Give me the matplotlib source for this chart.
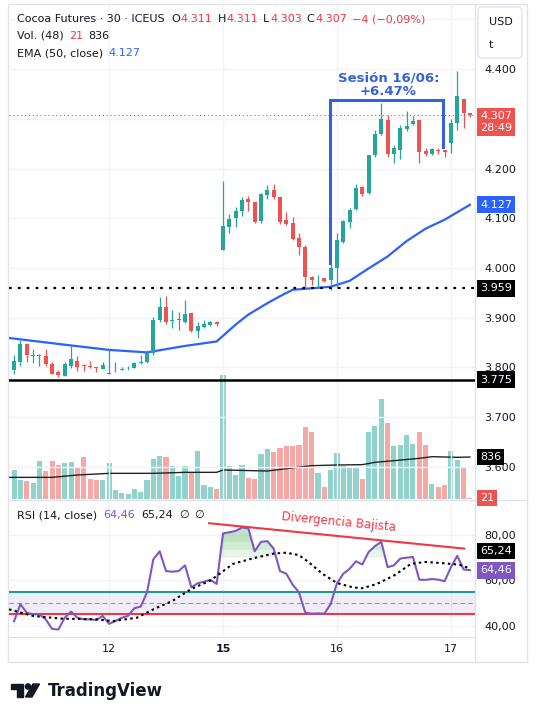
import numpy as np
import matplotlib
matplotlib.use("Agg")
import matplotlib.pyplot as plt
import matplotlib.transforms as mtransforms
from matplotlib.colors import to_rgba
from matplotlib.patches import FancyBboxPatch, Rectangle, Polygon, Circle

# Cocoa futures, 30 min bars (11/06 late -> 17/06)
opens = [3.795, 3.810, 3.847, 3.823, 3.822, 3.823, 3.806, 3.790, 3.783, 3.803,
         3.813, 3.804, 3.802, 3.800, 3.797, 3.787, 3.790, 3.795, 3.798, 3.799,
         3.808, 3.810, 3.828, 3.895, 3.921, 3.893, 3.895, 3.892, 3.910, 3.874,
         3.882, 3.886, 3.892, 4.036, 4.083, 4.101, 4.115, 4.138, 4.133, 4.095,
         4.147, 4.157, 4.142, 4.097, 4.091, 4.060, 4.043, 3.981, 3.977, 3.979,
         3.975, 3.999, 4.053, 4.093, 4.119, 4.162, 4.150, 4.227, 4.270, 4.298,
         4.229, 4.237, 4.280, 4.290, 4.298, 4.236, 4.229, 4.237, 4.237, 4.251,
         4.292, 4.340, 4.311]
highs = [3.824, 3.855, 3.849, 3.837, 3.826, 3.837, 3.810, 3.795, 3.810, 3.842,
         3.823, 3.807, 3.812, 3.801, 3.810, 3.835, 3.810, 3.801, 3.803, 3.810,
         3.825, 3.835, 3.901, 3.941, 3.944, 3.915, 3.912, 3.936, 3.910, 3.892,
         3.895, 3.893, 3.893, 4.174, 4.108, 4.123, 4.142, 4.144, 4.133, 4.150,
         4.167, 4.169, 4.142, 4.112, 4.103, 4.071, 4.046, 3.984, 3.986, 3.979,
         4.007, 4.070, 4.097, 4.120, 4.169, 4.165, 4.227, 4.278, 4.331, 4.308,
         4.247, 4.288, 4.316, 4.306, 4.298, 4.241, 4.241, 4.242, 4.237, 4.299,
         4.397, 4.340, 4.311]
lows = [3.786, 3.802, 3.810, 3.809, 3.802, 3.803, 3.786, 3.781, 3.782, 3.799,
        3.793, 3.793, 3.798, 3.790, 3.797, 3.786, 3.790, 3.794, 3.795, 3.798,
        3.807, 3.808, 3.825, 3.892, 3.887, 3.880, 3.875, 3.890, 3.871, 3.859,
        3.880, 3.884, 3.883, 4.036, 4.071, 4.083, 4.105, 4.115, 4.090, 4.091,
        4.138, 4.138, 4.088, 4.087, 4.056, 4.026, 3.959, 3.966, 3.962, 3.972,
        3.956, 3.959, 4.050, 4.080, 4.117, 4.144, 4.149, 4.224, 4.268, 4.224,
        4.212, 4.219, 4.276, 4.288, 4.211, 4.225, 4.227, 4.229, 4.224, 4.232,
        4.278, 4.281, 4.303]
closes = [3.813, 3.847, 3.824, 3.824, 3.824, 3.806, 3.787, 3.785, 3.806, 3.817,
          3.801, 3.802, 3.800, 3.799, 3.805, 3.788, 3.791, 3.797, 3.799, 3.808,
          3.810, 3.828, 3.895, 3.921, 3.892, 3.895, 3.896, 3.907, 3.874, 3.883,
          3.887, 3.891, 3.887, 4.085, 4.098, 4.115, 4.137, 4.133, 4.092, 4.149,
          4.157, 4.142, 4.093, 4.089, 4.058, 4.043, 3.981, 3.975, 3.978, 3.974,
          3.999, 4.056, 4.095, 4.117, 4.160, 4.149, 4.227, 4.270, 4.300, 4.229,
          4.241, 4.281, 4.286, 4.296, 4.234, 4.229, 4.239, 4.236, 4.233, 4.292,
          4.345, 4.311, 4.307]
volume = [578, 378, 359, 319, 757, 558, 757, 677, 717, 737,
          618, 837, 398, 378, 378, 717, 179, 120, 100, 199,
          139, 378, 797, 857, 837, 657, 458, 657, 538, 956,
          279, 239, 199, 2470, 657, 478, 677, 418, 398, 896,
          996, 936, 1016, 1056, 1056, 1076, 1434, 1335, 518, 239,
          578, 916, 657, 637, 618, 398, 1335, 1454, 1992, 1514,
          1056, 1076, 1275, 1096, 1335, 1076, 299, 239, 279, 956,
          777, 637, 21]
rsi = [42.0, 49.5, 45.7, 45.0, 45.0, 42.8, 38.6, 38.3, 43.5, 46.2,
       43.5, 42.8, 42.8, 42.5, 44.3, 40.8, 42.0, 43.5, 44.3, 47.7,
       48.4, 54.7, 69.3, 72.8, 64.1, 63.8, 64.1, 66.6, 56.9, 58.7,
       59.4, 60.2, 58.4, 80.7, 81.2, 81.8, 83.3, 83.0, 72.8, 77.0,
       77.3, 74.0, 64.1, 62.9, 58.1, 54.7, 45.7, 45.3, 45.4, 45.3,
       49.5, 58.7, 62.9, 65.1, 68.4, 67.0, 72.5, 75.1, 77.0, 65.8,
       66.6, 69.6, 70.0, 70.3, 60.3, 60.2, 60.6, 60.3, 59.6, 65.8,
       70.8, 64.8, 64.46]

# indicator lines (bar index, value)
ema_x = [-0.8, 7, 15, 21, 27, 32, 35, 37, 40, 42, 44, 47, 50, 53, 56, 59, 62, 65, 68, 72]
ema_v = [3.859, 3.847, 3.835, 3.830, 3.843, 3.852, 3.886, 3.906, 3.929, 3.943,
         3.956, 3.959, 3.962, 3.974, 3.999, 4.023, 4.054, 4.079, 4.097, 4.127]
vma_x = [-0.8, 6, 10, 15, 22, 27, 32, 33, 40, 47, 51, 55, 57, 60, 64, 66, 70, 72]
vma_v = [431, 431, 478, 511, 511, 531, 531, 578, 558, 664, 677, 684, 730, 764, 810, 843, 830, 836]
rma_x = [-0.8, 3, 7.5, 13, 15.6, 19.4, 22, 25, 28, 31, 34.6, 38, 41, 43, 45, 46.5,
         48.7, 51, 53.5, 55, 57.3, 60, 62.7, 65, 67.6, 70.3, 72]
rma_v = [47.2, 44.3, 43.1, 42.8, 42.0, 43.5, 47.2, 50.9, 56.2, 59.9, 67.3, 69.9, 71.8,
         72.2, 71.1, 68.1, 62.9, 58.8, 56.9, 56.5, 58.4, 62.1, 67.3, 68.1, 67.6, 66.9, 65.24]

day_pos = [15, 33, 51, 69]
day_labels = ["12", "15", "16", "17"]
price_ticks = [3.6, 3.7, 3.8, 3.9, 4.0, 4.1, 4.2, 4.3, 4.4, 4.5]
support = 3.959
low_level = 3.775
last_price = 4.307

UP, DOWN = "#26a69a", "#ef5350"
BLUE = "#2962ff"
GRID = "#f0f3fa"
BORDER = "#e0e3eb"
TXT = "#131722"
RED_TXT = "#f23645"

W, H = 536, 711
plt.rcParams["font.family"] = ["DejaVu Sans"]
fig = plt.figure(figsize=(W / 100, H / 100), dpi=100)


def box(l, t, r, b):
    return [l / W, 1 - b / H, (r - l) / W, (b - t) / H]


# background: frame, currency box, logo
bg = fig.add_axes([0, 0, 1, 1], zorder=-5)
bg.set_xlim(0, W)
bg.set_ylim(H, 0)
bg.axis("off")
bg.add_patch(Rectangle((8, 4), 519, 658, fill=False, ec=BORDER, lw=1))
bg.plot([475, 475], [4, 662], color=BORDER, lw=1)
bg.plot([8, 527], [500, 500], color=BORDER, lw=1)
bg.add_patch(FancyBboxPatch((478, 7), 44, 51, boxstyle="round,pad=0,rounding_size=4",
                            fc="white", ec=BORDER, lw=1))
bg.text(489, 22, "USD", fontsize=8, color=TXT, va="center")
bg.text(489, 45, "t", fontsize=8, color=TXT, va="center")
bg.add_patch(Polygon([(11, 684), (23, 684), (23, 697), (17, 697), (17, 688.5), (11, 688.5)],
                     color=TXT))
bg.add_patch(Circle((28, 686.5), 2.6, color=TXT))
bg.add_patch(Polygon([(33, 684), (39.5, 684), (32, 697), (25.5, 697)], color=TXT))
bg.text(48, 691, "TradingView", fontsize=12, fontweight="bold", color=TXT, va="center")

# price pane + volume overlay
ax = fig.add_axes(box(9, 5, 475, 499))
axv = ax.twinx()
ax.set_zorder(2)
axv.set_zorder(1)
ax.patch.set_visible(False)
axv.patch.set_visible(False)

x = np.arange(len(closes))
o, h, l, c = map(np.array, (opens, highs, lows, closes))
up = c >= o
cols = np.where(up, UP, DOWN)

vcols = [to_rgba(UP if u else DOWN, 0.5) for u in up]
axv.bar(x, volume, 0.8, color=vcols)
axv.plot(vma_x, vma_v, color="#222222", lw=1.0)
axv.set_ylim(0, 9840)
axv.set_yticks([])
for s in axv.spines.values():
    s.set_visible(False)

ax.plot(ema_x, ema_v, color=BLUE, lw=1.6, zorder=1.8)
ax.vlines(x, l, h, colors=cols, lw=0.9, zorder=2)
ax.bar(x, np.maximum(np.abs(c - o), 0.0015), 0.66, bottom=np.minimum(o, c), color=cols, zorder=2.1)

ax.axhline(support, color="black", lw=1.6, ls=(0, (1.2, 2.8)), zorder=3)
ax.axhline(low_level, color="black", lw=1.8, zorder=3)
ax.axhline(last_price, color=DOWN, lw=0.8, ls=(0, (1, 2.5)), zorder=1.5)

# session bracket
ax.plot([49.9, 49.9, 67.8, 67.8], [4.009, 4.338, 4.338, 4.243], color="#3461e0", lw=2.2,
        solid_joinstyle="miter", zorder=4)
ax.text(59.1, 4.368, "Sesión 16/06:\n+6.47%", ha="center", va="center", fontsize=9.5,
        fontweight="bold", color="#3461e0", linespacing=1.05, zorder=4)

ax.set_xlim(-0.8, 72.8)
ax.set_ylim(3.535, 4.529)
ax.set_xticks(day_pos)
ax.tick_params(axis="x", length=0, labelbottom=False)
ax.yaxis.tick_right()
ax.set_yticks(price_ticks)
# 4.300 and 4.500 sit under the price tag / currency box
ax.set_yticklabels(["" if p in (4.3, 4.5) else f"{p:.3f}" for p in price_ticks])
ax.tick_params(axis="y", length=0, pad=6.5, labelsize=8, labelcolor=TXT)
ax.grid(True, color=GRID, lw=1)
ax.set_axisbelow(True)
for s in ax.spines.values():
    s.set_visible(False)

lab_x = 1.0107
tp = mtransforms.blended_transform_factory(ax.transAxes, ax.transData)
tv = mtransforms.blended_transform_factory(ax.transAxes, axv.transData)


def tag(axis, tr, y, s, fc, dy=0):
    axis.annotate(s, xy=(lab_x, y), xycoords=tr, xytext=(0, dy), textcoords="offset points",
                  ha="left", va="center", fontsize=8, color="white", linespacing=1.25,
                  annotation_clip=False, zorder=10,
                  bbox=dict(boxstyle="square,pad=0.3", fc=fc, ec="none"))


tag(ax, tp, last_price, "4.307\n28:49", DOWN, dy=-4.8)
tag(ax, tp, 4.127, "4.127", BLUE)
tag(ax, tp, support, "3.959", "black")
tag(ax, tp, low_level, "3.775", "black")
tag(ax, tv, 836, "836", "black")
tag(ax, tv, 21, "21", DOWN)

# RSI pane
axr = fig.add_axes(box(9, 501, 475, 637), sharex=ax)
axr.patch.set_visible(False)
axr.axhspan(45, 55, color="#7e57c2", alpha=0.1, lw=0)
axr.axhline(55, color="#1e9e8c", lw=1.5)
axr.axhline(45, color=RED_TXT, lw=1.5)
axr.axhline(50, color="#9598a1", lw=0.8, ls=(0, (4, 3)))
r = np.array(rsi)
for lev in (70, 73.5, 77):
    axr.fill_between(x, lev, r, where=r >= lev, interpolate=True, color="#4caf50", alpha=0.13, lw=0)
axr.plot(x, r, color="#7e57c2", lw=1.5)
axr.plot(rma_x, rma_v, color="black", lw=1.5, ls=(0, (1.2, 1.6)))
axr.plot([30.8, 71.1], [85.2, 74.0], color=RED_TXT, lw=1.5)
axr.text(51.2, 85.6, "Divergencia Bajista", color=RED_TXT, fontsize=8.5,
         rotation=-5.5, ha="center", va="center")

axr.set_ylim(35, 95)
axr.yaxis.tick_right()
axr.set_yticks([40, 60, 80])
axr.set_yticklabels(["40,00", "60,00", "80,00"])
axr.tick_params(axis="y", length=0, pad=6.5, labelsize=8, labelcolor=TXT)
axr.set_xticks(day_pos)
axr.set_xticklabels(day_labels)
axr.tick_params(axis="x", length=0, pad=5, labelsize=8, labelcolor=TXT)
axr.get_xticklabels()[1].set_fontweight("bold")
axr.grid(True, color=GRID, lw=1)
axr.set_axisbelow(True)
for k, s in axr.spines.items():
    s.set_visible(k == "bottom")
    s.set_color(BORDER)

tr = mtransforms.blended_transform_factory(axr.transAxes, axr.transData)
tag(axr, tr, 64.46, "64,46", "#7e57c2")
tag(axr, tr, 65.24, "65,24", "black", dy=12.5)

# legend rows at the top of each pane, pieces laid out one after another
renderer = fig.canvas.get_renderer()


def row(y, parts, x0=17):
    px = x0
    for s, col, gap in parts:
        t = fig.text(px / W, 1 - y / H, s, fontsize=8, color=col, va="center")
        px = t.get_window_extent(renderer=renderer).x1 + gap


row(19, [("Cocoa Futures · 30 · ICEUS", TXT, 7), ("O", TXT, 0.5), ("4.311", RED_TXT, 5),
         ("H", TXT, 0.5), ("4.311", RED_TXT, 5), ("L", TXT, 0.5), ("4.303", RED_TXT, 5),
         ("C", TXT, 0.5), ("4.307", RED_TXT, 5), ("−4 (−0,09%)", RED_TXT, 0)])
row(36, [("Vol. (48)", TXT, 5), ("21", RED_TXT, 5), ("836", TXT, 0)])
row(53, [("EMA (50, close)", TXT, 5), ("4.127", BLUE, 0)])
row(515, [("RSI (14, close)", TXT, 6), ("64,46", "#7e57c2", 6), ("65,24", TXT, 6),
          ("∅", TXT, 6), ("∅", TXT, 0)])

fig.savefig("out.png", dpi=100, facecolor="white")
